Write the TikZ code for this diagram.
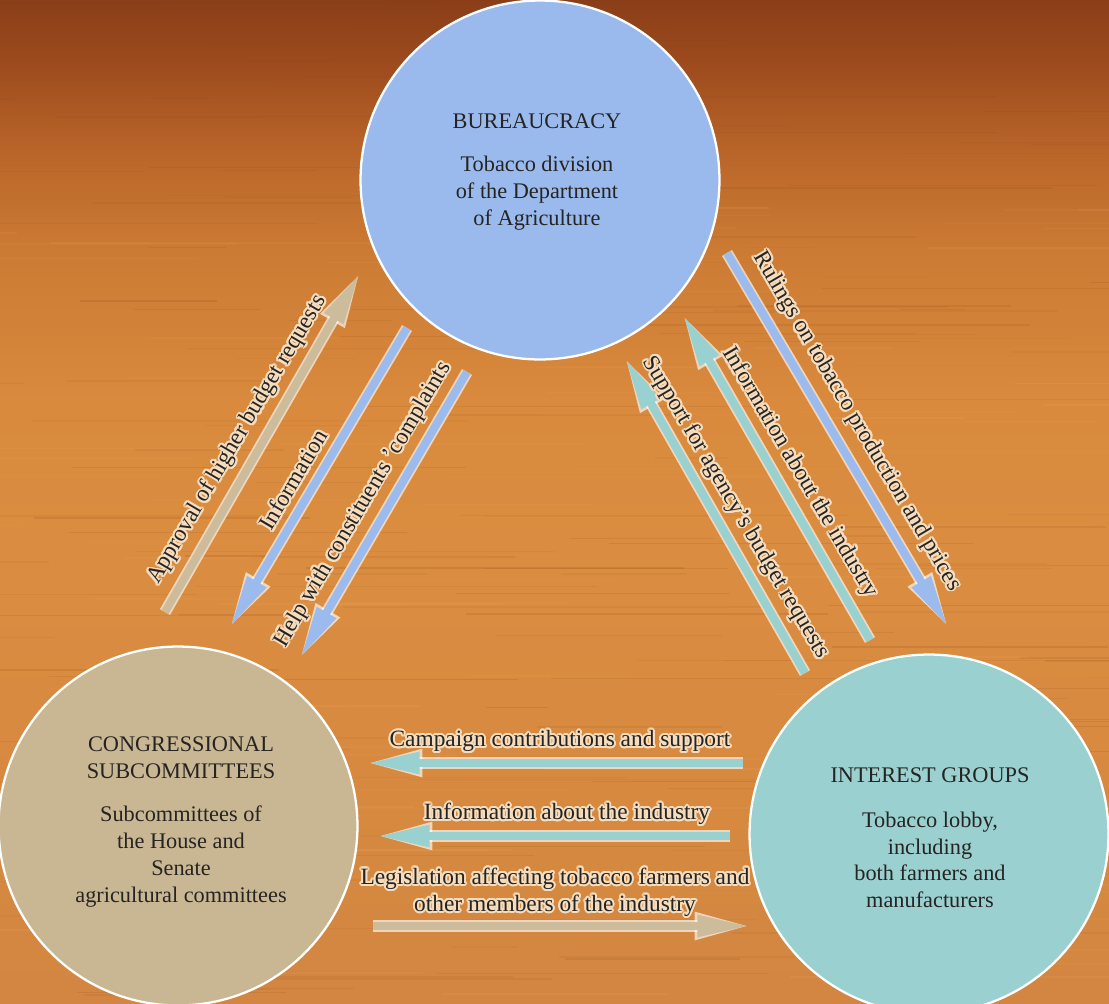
\documentclass[tikz,border=0pt]{standalone}
\usepackage{fontspec}
\setmainfont{Liberation Serif}
\usepackage{contour}
\usetikzlibrary{arrows.meta}
\definecolor{bureau}{HTML}{9ABAEE}
\definecolor{congress}{HTML}{C9B794}
\definecolor{interest}{HTML}{9AD0D0}
\definecolor{arrblue}{HTML}{9BBBEE}
\definecolor{arrteal}{HTML}{99D1D1}
\definecolor{arrtan}{HTML}{CDBC9C}
\definecolor{haloc}{HTML}{F6DDBE}
\definecolor{inkc}{HTML}{262422}
\definecolor{woodline}{HTML}{8A4A18}
\definecolor{woodlight}{HTML}{F0A860}
\definecolor{wa}{HTML}{8A3E18}
\definecolor{wb}{HTML}{9C4A1D}
\definecolor{wc}{HTML}{B96529}
\definecolor{wd}{HTML}{CC7B34}
\definecolor{we}{HTML}{D98A3D}
\definecolor{wf}{HTML}{DA8D41}
\definecolor{wg}{HTML}{D6893F}
\definecolor{wh}{HTML}{D28641}
\pgfdeclareverticalshading{wood}{100bp}{color(0bp)=(wh); color(25bp)=(wh); color(35bp)=(wg); color(45bp)=(wf); color(55bp)=(we); color(62.5bp)=(wd); color(67.5bp)=(wc); color(72bp)=(wb); color(75bp)=(wa); color(100bp)=(wa)}
\contourlength{1.1pt}
\contournumber{20}
\newcommand\hl[1]{\contour{haloc}{#1}}
\begin{document}
\begin{tikzpicture}[x=0.02cm,y=-0.02cm,
  circ/.style={circle, minimum size=7.18cm, inner sep=0pt, draw=white, line width=1.3pt},
  ctext/.style={align=center, text=inkc, font=\fontsize{12.7}{15.3}\selectfont},
  lbl/.style={text=inkc, inner sep=1pt, font=\fontsize{13.3}{15.3}\selectfont},
  arr/.style={line width=4.6pt, -{Triangle[length=30pt,width=11.5pt]},
    preaction={draw=white, draw opacity=0.65, line width=6.6pt, -{Triangle[length=33pt,width=14pt]}, shorten >=-1.5pt}},
]
\useasboundingbox (0,0) rectangle (1109,1004);
\shade[shading=wood] (0,0) rectangle (1109,1004);
% wood grain
\pgfmathsetseed{11}
\foreach \i in {1,...,170}{
  \pgfmathsetmacro\yy{rnd*1004}
  \pgfmathsetmacro\xx{rnd*1209-100}
  \pgfmathsetmacro\ll{60+rnd*380}
  \pgfmathsetmacro\op{0.05+rnd*0.13}
  \draw[line width=0.8pt, woodline, opacity=\op] (\xx,\yy) -- ++(\ll,0);
}
\foreach \i in {1,...,90}{
  \pgfmathsetmacro\yy{200+rnd*804}
  \pgfmathsetmacro\xx{rnd*1209-100}
  \pgfmathsetmacro\ll{60+rnd*300}
  \pgfmathsetmacro\op{0.05+rnd*0.12}
  \draw[line width=1pt, woodlight, opacity=\op] (\xx,\yy) -- ++(\ll,0);
}

% circles
\node[circ, fill=bureau] (bur) at (540,180) {};
\node[circ, fill=congress] (con) at (178,826) {};
\node[circ, fill=interest] (int) at (929,834) {};

\node[ctext] (burtxt) at (537,172) {BUREAUCRACY\\[9pt]Tobacco division\\of the Department\\of Agriculture};
\node[ctext] (contxt) at (181,822) {CONGRESSIONAL\\SUBCOMMITTEES\\[9pt]Subcommittees of\\the House and\\Senate\\agricultural committees};
\node[ctext] (inttxt) at (930,838) {INTEREST GROUPS\\[10pt]Tobacco lobby,\\including\\both farmers and\\manufacturers};

% arrow end points
\coordinate (a1s) at (165,612); \coordinate (a1e) at (360,273);
\coordinate (a2s) at (407,328); \coordinate (a2e) at (230,627);
\coordinate (a3s) at (467,372); \coordinate (a3e) at (300,658);
\coordinate (a4s) at (727,253); \coordinate (a4e) at (948,627);
\coordinate (a5s) at (870,640); \coordinate (a5e) at (683,315);
\coordinate (a6s) at (805,673); \coordinate (a6e) at (625,358);
\coordinate (a7s) at (743,763); \coordinate (a7e) at (367,763);
\coordinate (a8s) at (730,836); \coordinate (a8e) at (377,836);
\coordinate (a9s) at (373,926); \coordinate (a9e) at (750,926);

\draw[arr, arrtan] (a1s) -- (a1e);
\draw[arr, arrblue] (a2s) -- (a2e);
\draw[arr, arrblue] (a3s) -- (a3e);
\draw[arr, arrblue] (a4s) -- (a4e);
\draw[arr, arrteal] (a5s) -- (a5e);
\draw[arr, arrteal] (a6s) -- (a6e);
\draw[arr, arrteal] (a7s) -- (a7e);
\draw[arr, arrteal] (a8s) -- (a8e);
\draw[arr, arrtan] (a9s) -- (a9e);

% labels
\node[lbl, rotate=59.5] (l1) at (238,440) {\hl{Approval of higher budget requests}};
\node[lbl, rotate=59.5] (l2) at (294,480) {\hl{Information}};
\node[lbl, rotate=59.5] (l3) at (364,505) {\hl{Help with constituents 'complaints}};
\node[lbl, rotate=-59.5] (l4) at (856,422) {\hl{Rulings on tobacco production and prices}};
\node[lbl, rotate=-59.5] (l5) at (799,473) {\hl{Information about the industry}};
\node[lbl, rotate=-59.5] (l6) at (735,508) {\hl{Support for agency's budget requests}};
\node[lbl] (l7) at (560,742) {\hl{Campaign contributions and support}};
\node[lbl] (l8) at (567,815) {\hl{Information about the industry}};
\node[lbl, align=center] (l9) at (555,893) {\hl{Legislation affecting tobacco farmers and}\\\hl{other members of the industry}};
\end{tikzpicture}
\end{document}
